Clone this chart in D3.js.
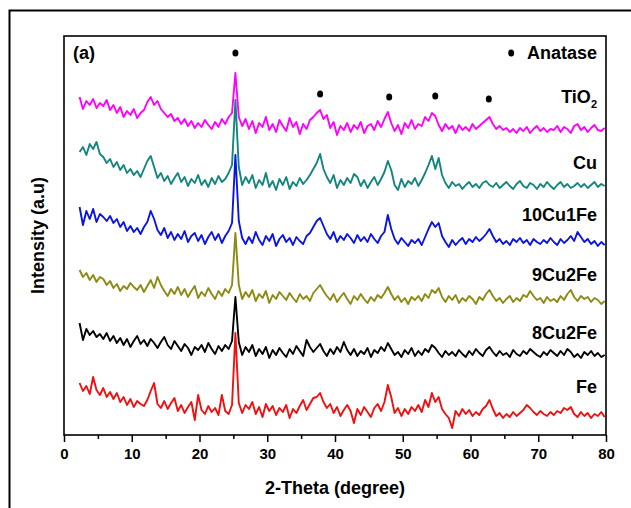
<!DOCTYPE html>
<html>
<head>
<meta charset="utf-8">
<script src="https://cdn.jsdelivr.net/npm/d3@7"></script>
<style>
  html, body { margin: 0; padding: 0; background: #fff; }
  svg { display: block; }
  text { font-family: "Liberation Sans", Arial, sans-serif; font-weight: bold; fill: #000; }
</style>
</head>
<body>
<svg id="chart" width="631" height="508"></svg>
<script>
// ---- DATA ----
// 2-theta sampling: 2.3° to 79.8°, step 0.5°
const thetaStart = 2.3;
const thetaStep = 0.5;
const xTicks = [0, 10, 20, 30, 40, 50, 60, 70, 80];
const xMinorTicks = [5, 15, 25, 35, 45, 55, 65, 75];

const seriesNames = ["TiO2", "Cu", "10Cu1Fe", "9Cu2Fe", "8Cu2Fe", "Fe"];
const seriesColors = ["#ff00ff", "#12857e", "#0a14e6", "#8c8a12", "#000000", "#f01010"];

// stacked (offset) intensities, arbitrary units
const tio2 = [
  338,326,334,330,336,327,332,329,335,325,
  330,322,328,318,324,320,326,317,322,325,
  333,338,330,334,326,322,318,321,314,317,
  311,316,309,314,307,312,308,315,310,306,
  313,308,316,311,318,322,
  362,
  318,309,316,
  306,314,302,312,308,318,305,311,303,315,
  309,304,317,308,313,301,311,306,315,318,
  322,325,316,320,307,313,300,309,305,312,
  303,310,306,313,302,309,311,305,314,308,
  316,323,312,304,310,301,312,307,315,306,
  311,309,318,314,322,319,310,304,311,306,
  309,302,310,305,308,304,311,306,309,312,
  315,318,311,306,309,305,307,303,306,302,
  307,304,308,302,306,309,304,307,303,306,
  305,309,303,308,306,302,309,311,305,308,
  303,307,310,305,304,307
];
const cu = [
  283,288,280,291,286,293,281,278,272,276,
  268,273,265,270,262,266,260,264,258,266,
  274,279,268,257,262,254,259,251,257,262,
  253,258,249,256,252,260,250,255,248,257,
  251,259,253,256,262,270,
  335,
  268,250,258,
  252,260,247,255,250,262,248,254,245,256,
  250,258,246,253,249,257,251,255,260,266,
  272,281,266,258,252,260,247,255,250,257,
  252,261,258,249,255,247,253,258,250,256,
  263,274,265,250,245,256,248,254,251,257,
  249,255,262,270,279,266,277,260,252,247,
  253,249,251,246,250,253,248,251,247,252,
  254,250,248,252,247,250,253,249,246,251,
  254,249,247,252,250,246,251,248,253,249,
  246,250,253,248,251,247,249,252,248,251,
  247,250,253,248,251,249
];
const cu10fe1 = [
  228,210,224,216,226,213,221,218,214,219,
  212,216,208,213,204,209,203,207,201,208,
  213,224,216,205,200,207,197,203,195,201,
  196,204,193,199,202,194,200,191,198,203,
  195,201,192,199,204,212,
  280,
  214,197,191,
  198,192,203,195,190,199,194,201,189,196,
  200,193,197,190,198,194,191,199,202,208,
  214,217,209,201,196,203,193,199,195,201,
  197,192,200,194,198,193,201,196,192,199,
  203,220,206,196,191,197,193,189,195,192,
  196,190,198,206,213,208,212,199,193,188,
  195,190,194,197,191,196,193,198,194,197,
  201,206,199,193,196,191,194,190,196,193,
  197,192,195,190,196,193,191,195,192,197,
  193,190,196,192,195,199,194,203,198,193,
  196,191,194,189,193,190
];
const cu9fe2 = [
  165,158,162,155,160,153,158,156,150,154,
  147,151,144,149,146,152,148,145,150,143,
  149,155,147,158,150,144,139,146,141,148,
  140,146,138,144,149,137,143,139,147,141,
  136,144,139,146,142,150,
  202,
  150,136,143,
  138,145,134,141,137,144,132,140,136,143,
  139,135,142,137,133,141,136,139,134,142,
  146,150,144,139,135,141,133,138,142,136,
  131,139,135,141,136,132,138,134,140,137,
  142,148,141,135,139,133,137,131,138,135,
  139,134,141,137,145,142,147,138,133,139,
  135,140,132,137,134,139,136,131,138,135,
  141,145,139,134,137,132,136,139,133,137,
  134,140,138,144,139,135,137,132,138,134,
  136,133,139,135,141,145,138,134,139,136,
  138,133,137,135,131,134
];
const cu8fe2 = [
  112,95,106,100,104,98,101,96,102,94,
  99,92,97,90,96,88,94,99,91,95,
  89,96,92,87,93,98,90,86,94,89,
  84,91,87,80,88,85,90,83,92,86,
  81,89,84,90,86,94,
  138,
  93,80,88,
  83,90,79,86,81,88,77,85,80,87,
  82,78,86,81,89,84,79,95,88,83,
  87,91,84,79,86,81,88,83,93,85,
  80,86,79,84,81,87,78,85,82,88,
  84,92,86,80,83,78,85,81,87,79,
  84,80,86,83,90,87,82,78,84,80,
  83,79,85,81,78,84,80,86,82,79,
  85,88,83,79,84,80,82,78,85,81,
  79,84,81,86,83,80,78,83,80,85,
  82,79,84,80,86,83,78,81,77,83,
  80,84,79,82,78,80
];
const fe = [
  52,44,49,41,58,45,40,47,38,43,
  36,42,33,38,30,36,28,34,31,29,
  35,44,52,31,27,34,26,32,37,24,
  30,22,28,33,15,40,25,21,29,23,
  27,20,40,24,21,30,
  102,
  32,22,30,
  26,33,21,28,18,31,24,29,20,27,
  23,30,17,26,22,29,35,25,31,37,
  38,42,33,27,31,22,28,19,25,30,
  24,12,26,20,28,23,18,27,31,24,
  33,50,38,22,27,19,26,21,28,24,
  30,23,35,28,42,33,38,26,21,17,
  7,24,19,26,21,25,19,23,20,26,
  29,35,26,19,22,17,21,18,23,19,
  22,25,30,27,23,20,24,21,19,23,
  20,24,22,27,25,28,21,18,23,19,
  22,17,21,19,23,18
];
const seriesValues = [tio2, cu, cu10fe1, cu9fe2, cu8fe2, fe];

// series label positions (intensity units, same scale as traces)
const labelLevels = [338, 272, 220, 160, 102, 48];
// anatase markers
const anataseAngles = [25.3, 37.8, 48.0, 54.8, 62.7];
const anataseLevels = [382, 341, 338, 339, 336];
const legendMarker = { angle: 66.0, level: 382 };

// ---- LAYOUT ----
const svg = d3.select("#chart");
const m = { left: 64, right: 606, top: 36, bottom: 435 };

const x = d3.scaleLinear().domain([0, 80]).range([m.left, m.right]);
const y = d3.scaleLinear().domain([0, 399]).range([m.bottom, m.top]);

// outer frame (left and top edges visible)
svg.append("path")
  .attr("d", "M9.5,508 L9.5,10.5 L631,10.5")
  .attr("fill", "none").attr("stroke", "#000").attr("stroke-width", 2);

// traces
const line = d3.line()
  .x((d, i) => x(thetaStart + thetaStep * i))
  .y(d => y(d));

seriesValues.forEach((vals, k) => {
  svg.append("path")
    .datum(vals)
    .attr("d", line)
    .attr("fill", "none")
    .attr("stroke", seriesColors[k])
    .attr("stroke-width", 1.9)
    .attr("stroke-linejoin", "round");
});

// plot frame
svg.append("rect")
  .attr("x", m.left).attr("y", m.top)
  .attr("width", m.right - m.left).attr("height", m.bottom - m.top)
  .attr("fill", "none").attr("stroke", "#000").attr("stroke-width", 1.6);

// x axis
const xAxis = svg.append("g")
  .attr("transform", `translate(0,${m.bottom})`)
  .call(d3.axisBottom(x).tickValues(xTicks).tickSize(7).tickPadding(6).tickFormat(d3.format("d")));
xAxis.select(".domain").remove();
xAxis.selectAll(".tick line").attr("stroke", "#000").attr("stroke-width", 1.5);
xAxis.selectAll(".tick text")
  .style("font-family", "'Liberation Sans', Arial, sans-serif")
  .style("font-weight", "bold").style("font-size", "15px").attr("fill", "#000");

const xMinor = svg.append("g")
  .attr("transform", `translate(0,${m.bottom})`)
  .call(d3.axisBottom(x).tickValues(xMinorTicks).tickSize(4).tickFormat(""));
xMinor.select(".domain").remove();
xMinor.selectAll(".tick line").attr("stroke", "#000").attr("stroke-width", 1.5);

// axis titles
svg.append("text")
  .attr("x", (m.left + m.right) / 2).attr("y", 494)
  .attr("text-anchor", "middle").style("font-size", "18px")
  .text("2-Theta (degree)");

svg.append("text")
  .attr("transform", `translate(44,${(m.top + m.bottom) / 2}) rotate(-90)`)
  .attr("text-anchor", "middle").style("font-size", "18px")
  .text("Intensity (a.u)");

// panel label
svg.append("text")
  .attr("x", 73).attr("y", 59).style("font-size", "18px").text("(a)");

// series labels
seriesNames.forEach((name, k) => {
  const t = svg.append("text")
    .attr("x", 597).attr("y", y(labelLevels[k]) + 6)
    .attr("text-anchor", "end").style("font-size", "18px");
  if (name === "TiO2") {
    t.append("tspan").text("TiO");
    t.append("tspan").attr("dy", 5).style("font-size", "11px").text("2");
  } else {
    t.text(name);
  }
});

// anatase markers
svg.selectAll("ellipse.anatase")
  .data(anataseAngles.map((a, i) => ({ a, l: anataseLevels[i] })))
  .enter().append("ellipse")
  .attr("class", "anatase")
  .attr("cx", d => x(d.a)).attr("cy", d => y(d.l))
  .attr("rx", 3).attr("ry", 3.6).attr("fill", "#000");

svg.append("ellipse")
  .attr("cx", x(legendMarker.angle)).attr("cy", y(legendMarker.level))
  .attr("rx", 3).attr("ry", 3.6).attr("fill", "#000");
svg.append("text")
  .attr("x", 597).attr("y", y(legendMarker.level) + 6)
  .attr("text-anchor", "end").style("font-size", "18px").text("Anatase");
</script>
</body>
</html>
